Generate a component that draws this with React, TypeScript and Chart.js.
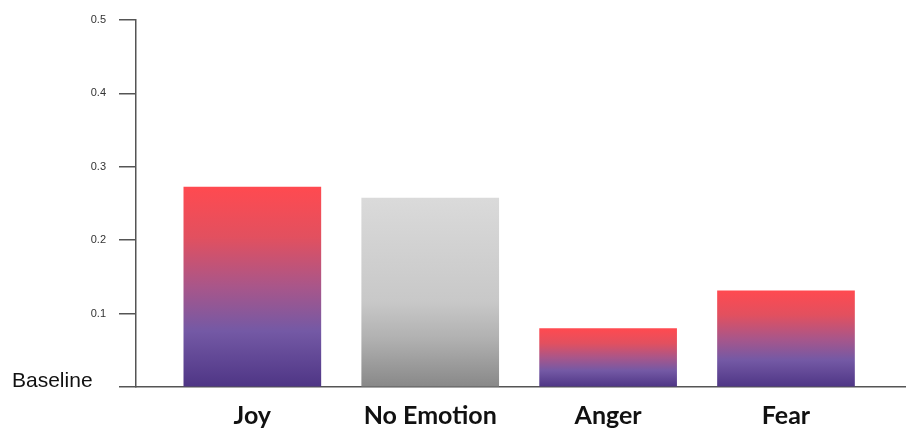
import React, { useEffect, useRef } from 'react';
import { Chart, registerables } from 'chart.js';

Chart.register(...registerables);

const categories = ['Joy', 'No Emotion', 'Anger', 'Fear'];
const values = [0.2725, 0.2575, 0.0795, 0.131];
const yTickValues = [0, 0.1, 0.2, 0.3, 0.4, 0.5];
const baselineLabel = 'Baseline';

const emotionStops: [number, string][] = [
  [0, '#ff4a50'],
  [0.25, '#e2505f'],
  [0.5, '#a8568a'],
  [0.72, '#7459a5'],
  [1, '#4e3585'],
];
const neutralStops: [number, string][] = [
  [0, '#dadada'],
  [0.55, '#c8c8c8'],
  [0.75, '#b0b0b0'],
  [1, '#888888'],
];

export default function App() {
  const ref = useRef<HTMLCanvasElement>(null);

  useEffect(() => {
    document.body.style.margin = '0';
    const canvas = ref.current;
    if (!canvas) return;

    const baselinePlugin = {
      id: 'baselineLabel',
      afterDraw(chart: any) {
        const y = chart.scales.y;
        const c = chart.ctx;
        c.save();
        c.font = '21px "Liberation Sans", Arial, sans-serif';
        c.fillStyle = '#111';
        c.textAlign = 'left';
        c.textBaseline = 'middle';
        c.fillText(baselineLabel, 12, y.getPixelForValue(0) - 6);
        c.restore();
      },
    };

    const chart = new Chart(canvas, {
      type: 'bar',
      data: {
        datasets: [
          {
            data: categories.map((_, i) => ({ x: i, y: values[i] })),
            barThickness: 137,
            borderWidth: 0,
            backgroundColor: (ctx: any) => {
              if (ctx.type !== 'data') return '#888';
              const ch = ctx.chart;
              if (!ch.chartArea) return '#888';
              const ys = ch.scales.y;
              const v = ctx.parsed ? ctx.parsed.y : values[ctx.dataIndex];
              const top = ys.getPixelForValue(v);
              const bottom = ys.getPixelForValue(0);
              const g = ch.ctx.createLinearGradient(0, top, 0, bottom);
              const stops = categories[ctx.dataIndex] === 'No Emotion' ? neutralStops : emotionStops;
              stops.forEach(([o, col]) => g.addColorStop(o, col));
              return g;
            },
          } as any,
        ],
      },
      options: {
        responsive: false,
        animation: false,
        layout: { padding: { top: 20, right: 10, left: 0, bottom: 0 } },
        plugins: { legend: { display: false }, tooltip: { enabled: false } },
        scales: {
          x: {
            type: 'linear',
            offset: false,
            min: -0.654,
            max: 3.669,
            afterBuildTicks: (s: any) => {
              s.ticks = categories.map((_, i) => ({ value: i }));
            },
            afterFit: (s: any) => {
              s.height = 47;
            },
            grid: { display: false, drawTicks: false, offset: false },
            border: { display: true, color: '#555', width: 1.5 },
            ticks: {
              padding: 14,
              autoSkip: false,
              maxRotation: 0,
              color: '#111',
              font: { family: 'Lato, "Open Sans", sans-serif', size: 25, weight: 'bold' },
              callback: (v: any) => categories[Math.round(Number(v))] ?? '',
            },
          },
          y: {
            min: 0,
            max: 0.5,
            afterBuildTicks: (s: any) => {
              s.ticks = yTickValues.map((v) => ({ value: v }));
            },
            afterFit: (s: any) => {
              s.width = 136;
            },
            grid: {
              drawOnChartArea: false,
              drawTicks: true,
              tickLength: 17,
              color: '#555',
              lineWidth: 1.5,
            },
            border: { display: true, color: '#555', width: 1.5 },
            ticks: {
              padding: 13,
              color: '#333',
              font: { family: '"Liberation Sans", Arial, sans-serif', size: 11 },
              callback: (v: any) => (Number(v) === 0 ? '' : Number(v).toFixed(1)),
            },
          },
        },
      } as any,
      plugins: [baselinePlugin],
    });

    return () => chart.destroy();
  }, []);

  return (
    <div style={{ width: 915, height: 434 }}>
      <canvas ref={ref} width={915} height={434} style={{ display: 'block' }} />
    </div>
  );
}
